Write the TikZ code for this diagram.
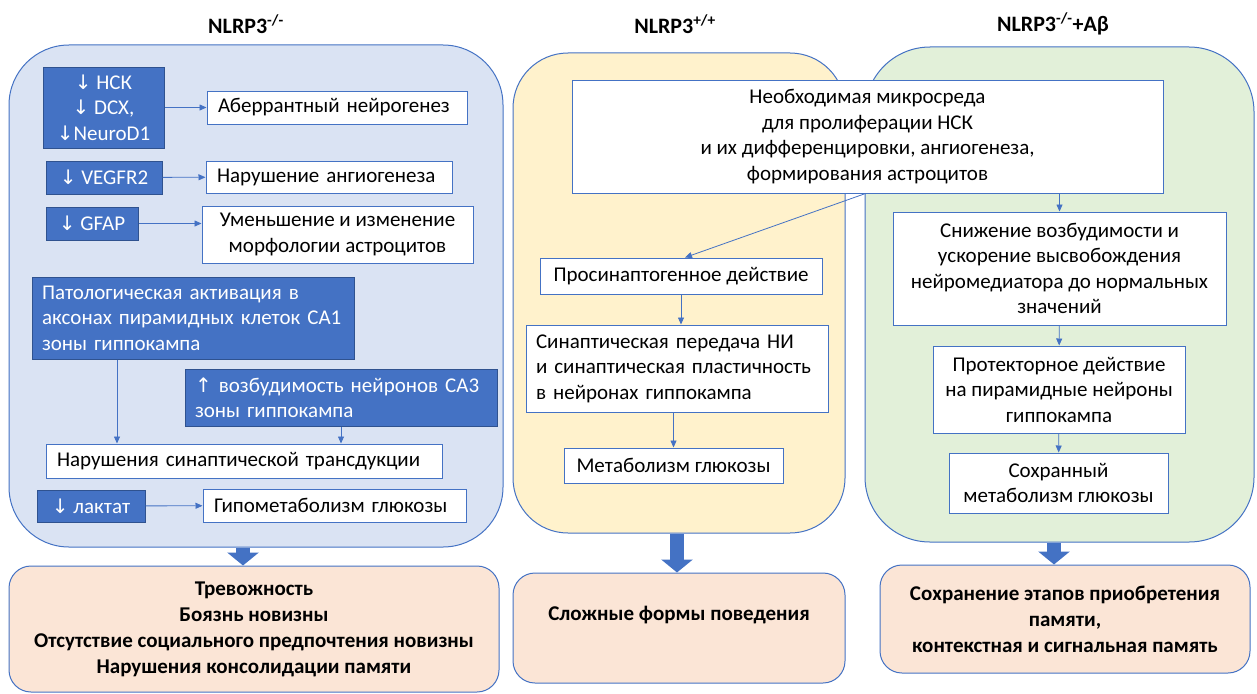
\documentclass[tikz,border=0pt]{standalone}
\usepackage{fontspec}
\setmainfont{Carlito}
\newfontfamily\arrowfont{DejaVu Sans}
\usetikzlibrary{arrows.meta}
\definecolor{bluedark}{HTML}{4472C4}
\definecolor{blueedge}{HTML}{2F528F}
\definecolor{panelblue}{HTML}{DAE3F3}
\definecolor{panelyellow}{HTML}{FFF2CC}
\definecolor{panelgreen}{HTML}{E2F0D9}
\definecolor{resultpink}{HTML}{FBE5D6}
\newcommand{\dnar}{{\arrowfont\fontsize{20}{20}\selectfont\char"2193}}
\newcommand{\upar}{{\arrowfont\fontsize{20}{20}\selectfont\char"2191}}
\tikzset{
  panel/.style={draw=bluedark, line width=1pt, inner sep=0pt, rounded corners=60pt},
  whitebox/.style={draw=bluedark, fill=white, line width=1pt, inner sep=0pt,
    font=\fontsize{21}{25.5}\selectfont},
  darkbox/.style={draw=blueedge, fill=bluedark, text=white, line width=1pt, inner sep=0pt,
    font=\fontsize{21}{25.5}\selectfont},
  result/.style={draw=bluedark, fill=resultpink, line width=1pt, inner sep=0pt,
    rounded corners=22pt, align=center, font=\bfseries\fontsize{21}{26}\selectfont},
  title/.style={font=\bfseries\fontsize{22}{24}\selectfont},
  link/.style={draw=bluedark, line width=0.8pt, -{Triangle[length=7pt,width=6pt]}},
  bigarrow/.style={draw=bluedark, line width=14pt, -{Triangle[length=13pt,width=31pt]}},
}
\begin{document}
\begin{tikzpicture}[x=1pt,y=-1pt]
\useasboundingbox (0,0) rectangle (1257,693);

% titles
\node[title] (tleft) at (246,24) {NLRP3\textsuperscript{-/-}};
\node[title] (tmid) at (675,24) {NLRP3\textsuperscript{+/+}};
\node[title] (tright) at (1053,24) {NLRP3\textsuperscript{-/-}+Aβ};

% panels
\node[panel, fill=panelblue, minimum width=494, minimum height=502] (pleft) at (256,296) {};
\node[panel, fill=panelyellow, rounded corners=55pt, minimum width=332, minimum height=480] (pmid) at (679,293) {};
\node[panel, fill=panelgreen, rounded corners=65pt, minimum width=389, minimum height=495] (pright) at (1059.5,294.5) {};

% NLRP3 -/-
\node[darkbox, minimum width=121, minimum height=81, align=center] (nsk) at (103.5,107.5)
  {\dnar{} НСК\\\dnar{} DCX,\\\dnar NeuroD1};
\node[whitebox, minimum width=260, minimum height=33, text width=238, align=left] (aber) at (337,107.5)
  {Аберрантный нейрогенез};
\node[darkbox, minimum width=116, minimum height=33] (vegf) at (104,177.5) {\dnar{} VEGFR2};
\node[whitebox, minimum width=246, minimum height=32, text width=224, align=left] (angio) at (329,177)
  {Нарушение ангиогенеза};
\node[darkbox, minimum width=92, minimum height=33] (gfap) at (92,223.5) {\dnar{} GFAP};
\node[whitebox, minimum width=271, minimum height=57, align=center] (astro) at (337.5,234.5)
  {Уменьшение и изменение\\морфологии астроцитов};
\node[darkbox, minimum width=322, minimum height=82, text width=302, align=left] (patol) at (193,318)
  {Патологическая активация в\\аксонах пирамидных клеток СА1\\зоны гиппокампа};
\node[darkbox, minimum width=312, minimum height=57, text width=292, align=left] (excit) at (341,397.5)
  {\upar{} возбудимость нейронов СА3\\зоны гиппокампа};
\node[whitebox, minimum width=396, minimum height=34, text width=374, align=left] (trans) at (244,461)
  {Нарушения синаптической трансдукции};
\node[darkbox, minimum width=108, minimum height=32] (lakt) at (91,506) {\dnar{} лактат};
\node[whitebox, minimum width=263, minimum height=33, text width=241, align=left] (hypo) at (334.5,505.5)
  {Гипометаболизм глюкозы};

\draw[link] (nsk) -- (aber);
\draw[link] (vegf) -- (angio);
\draw[link] (gfap) -- (gfap -| astro.west);
\coordinate (pdown) at ([xshift=-76]patol.south);
\draw[link] (pdown) -- (pdown |- trans.north);
\draw[link] (excit.south) -- (excit.south |- trans.north);
\draw[link] (lakt) -- (hypo);

% NLRP3 +/+
\node[whitebox, minimum width=591, minimum height=113, align=center] (need) at (867.5,136.5)
  {Необходимая микросреда\\для пролиферации НСК\\и их дифференцировки, ангиогенеза,\\формирования астроцитов};
\node[whitebox, minimum width=282, minimum height=36] (prosyn) at (681,276) {Просинаптогенное действие};
\node[whitebox, minimum width=302, minimum height=87, text width=282, align=left] (synap) at (677,368.5)
  {Синаптическая передача НИ\\и синаптическая пластичность\\в нейронах гиппокампа};
\node[whitebox, minimum width=219, minimum height=35] (gluc) at (673.5,465.5) {Метаболизм глюкозы};

\draw[link] ([xshift=-2]need.south) -- ([xshift=4]prosyn.north);
\draw[link] (prosyn.south) -- (prosyn.south |- synap.north);
\draw[link] (gluc.north |- synap.south) -- (gluc.north);

% NLRP3 -/- + Abeta
\node[whitebox, minimum width=333, minimum height=113, align=center] (snizh) at (1059.5,268.5)
  {Снижение возбудимости и\\ускорение высвобождения\\нейромедиатора до нормальных\\значений};
\node[whitebox, minimum width=252, minimum height=87, align=center] (protect) at (1059,389.5)
  {Протекторное действие\\на пирамидные нейроны\\гиппокампа};
\node[whitebox, minimum width=219, minimum height=60, align=center] (sohr) at (1058.5,483)
  {Сохранный\\метаболизм глюкозы};

\draw[link] (need.south -| snizh.north) -- (snizh.north);
\draw[link] (snizh) -- (protect);
\draw[link] (protect) -- (sohr);

% outcomes
\node[result, minimum width=490, minimum height=126] (bleft) at (254,629)
  {Тревожность\\Боязнь новизны\\Отсутствие социального предпочтения новизны\\Нарушения консолидации памяти};
\node[result, minimum width=332, minimum height=110, text depth=30pt] (bmid) at (679,628)
  {Сложные формы поведения};
\node[result, minimum width=370, minimum height=108] (bright) at (1065,619)
  {Сохранение этапов приобретения\\памяти,\\контекстная и сигнальная память};

\draw[bigarrow] ([xshift=-13]pleft.south) -- ([xshift=-11]bleft.north);
\draw[bigarrow] ([xshift=-2]pmid.south) -- ([xshift=-2]bmid.north);
\draw[bigarrow] ([xshift=-5.5]pright.south) -- ([xshift=-11]bright.north);
\end{tikzpicture}
\end{document}
